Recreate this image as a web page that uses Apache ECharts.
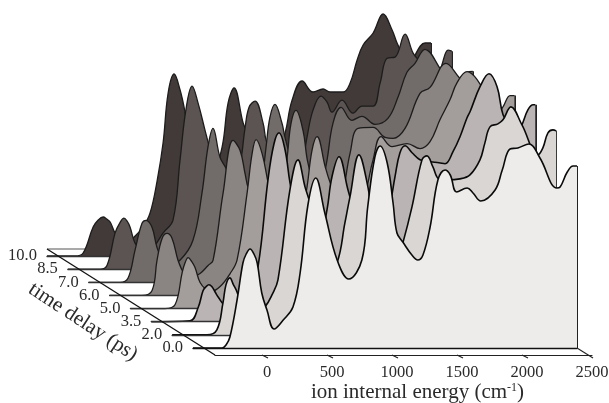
<!DOCTYPE html>
<html><head><meta charset="utf-8">
<style>html,body{margin:0;padding:0;background:#fff}#c{width:609px;height:403px}</style>
<script src="https://cdn.jsdelivr.net/npm/echarts@6/dist/echarts.min.js"></script>
</head><body><div id="c"></div>
<script>
const delays = ['0.0','2.0','3.5','5.0','6.0','7.0','8.5','10.0'];
const fills = ['#edeceb','#d9d6d4','#bab5b4','#a39d9b','#8a8482','#716b69','#5b5452','#413a38'];
const tickValues = [0,500,1000,1500,2000,2500];
// [ion internal energy (cm-1), intensity (arb.)]
const trace0 = [[-454,0],[-230,0],[-200,3],[-170,11],[-115,48],[-70,85],[-45,94],[-15,99],[15,94],[40,85],[75,55],[115,38],[170,19],[240,28],[315,41],[370,75],[430,143],[490,170],[560,135],[655,88],[745,69],[845,88],[890,141],[945,191],[985,202],[1040,185],[1085,145],[1115,115],[1160,106],[1230,93],[1275,88],[1315,93],[1370,121],[1430,168],[1485,178],[1525,173],[1575,156],[1655,160],[1700,155],[1760,147],[1870,158],[1925,178],[1985,199],[2045,200],[2130,204],[2215,190],[2345,160],[2370,161],[2425,176],[2470,182],[2500,182]];
const trace1 = [[-454,0],[-186,0],[-110,5],[-63,32],[-40,50],[-10,57],[18,50],[45,43],[105,22],[168,18],[260,28],[314,40],[360,55],[452,145],[514,175],[568,148],[606,132],[683,90],[745,65],[814,72],[875,112],[914,138],[983,180],[1052,148],[1083,120],[1145,92],[1222,82],[1283,77],[1321,92],[1391,128],[1468,175],[1506,179],[1552,168],[1598,156],[1660,155],[1760,156],[1837,160],[1914,175],[1952,192],[1991,208],[2052,211],[2091,215],[2152,228],[2237,210],[2360,180],[2398,187],[2437,202],[2475,205],[2500,204]];
const trace2 = [[-454,0],[-156,1],[-94,14],[-56,31],[-33,35],[-10,37],[13,35],[36,30],[59,25],[121,15],[167,14],[244,20],[306,32],[367,55],[444,142],[490,178],[529,189],[575,172],[613,139],[667,105],[729,78],[782,68],[844,80],[898,112],[936,145],[990,165],[1059,132],[1082,122],[1152,100],[1229,85],[1290,82],[1344,95],[1390,122],[1421,145],[1459,169],[1498,176],[1552,169],[1613,162],[1690,160],[1759,159],[1806,158],[1867,170],[1921,185],[1975,204],[1998,210],[2075,235],[2144,248],[2206,235],[2252,207],[2313,195],[2367,188],[2398,197],[2444,212],[2483,217],[2500,217]];
const trace3 = [[-454,0],[-187,0],[-110,4],[-56,36],[-33,46],[-10,51],[18,47],[43,41],[82,26],[128,19],[167,17],[236,22],[313,35],[367,49],[444,116],[482,155],[513,169],[559,155],[605,126],[659,95],[744,75],[820,78],[874,100],[905,122],[944,159],[982,172],[1044,142],[1082,126],[1159,100],[1213,90],[1274,80],[1328,95],[1374,126],[1413,149],[1474,172],[1559,162],[1674,165],[1774,160],[1851,167],[1928,189],[2005,209],[2059,226],[2136,237],[2213,229],[2313,206],[2367,194],[2413,202],[2467,213],[2500,213]];
const trace4 = [[-454,0],[-204,0],[-127,5],[-89,35],[-50,57],[-12,62],[27,57],[73,35],[119,22],[165,18],[242,22],[304,30],[342,35],[419,102],[496,155],[550,145],[588,122],[611,108],[665,88],[742,78],[819,85],[873,105],[912,138],[942,172],[980,185],[1034,165],[1073,132],[1150,100],[1227,90],[1280,85],[1335,100],[1396,142],[1458,167],[1573,168],[1665,158],[1727,157],[1819,167],[1934,202],[2011,208],[2134,232],[2242,217],[2365,203],[2434,205],[2500,210]];
const trace5 = [[-454,0],[-213,0],[-152,4],[-98,32],[-44,59],[-13,62],[33,55],[71,35],[117,22],[164,18],[248,22],[348,42],[417,89],[463,135],[502,154],[556,125],[602,114],[671,90],[740,75],[825,85],[879,105],[910,135],[940,165],[979,178],[1033,159],[1056,145],[1133,110],[1210,92],[1279,85],[1340,100],[1379,122],[1425,159],[1487,175],[1571,162],[1648,166],[1748,158],[1848,164],[1925,185],[1994,210],[2056,219],[2133,233],[2248,214],[2325,197],[2402,194],[2456,210],[2500,211]];
const trace6 = [[-454,0],[-206,0],[-152,4],[-91,36],[-55,46],[-22,51],[2,48],[25,42],[63,26],[109,20],[163,17],[217,24],[278,36],[355,49],[409,109],[455,160],[502,183],[548,166],[601,139],[617,131],[678,100],[732,75],[809,80],[871,105],[909,141],[940,162],[986,168],[1048,146],[1071,129],[1140,105],[1217,90],[1294,88],[1348,105],[1386,132],[1432,159],[1494,173],[1540,167],[1578,157],[1655,169],[1740,156],[1809,163],[1894,163],[1948,186],[2002,211],[2063,212],[2140,235],[2202,216],[2256,207],[2332,189],[2386,189],[2425,205],[2471,219],[2500,218]];
const trace7 = [[-454,0],[-238,0],[-176,3],[-99,29],[-60,36],[-22,39],[5,37],[32,34],[70,23],[116,16],[162,14],[224,20],[285,29],[339,43],[393,75],[439,113],[478,163],[524,182],[570,166],[609,143],[670,95],[732,72],[816,80],[893,109],[939,153],[985,168],[1055,133],[1078,126],[1147,105],[1224,90],[1301,92],[1378,123],[1432,156],[1509,175],[1593,164],[1670,167],[1724,164],[1824,164],[1878,173],[1932,196],[1978,211],[2055,223],[2132,242],[2201,226],[2239,213],[2301,196],[2340,186],[2378,201],[2455,213],[2500,213]];
const traces = [trace0,trace1,trace2,trace3,trace4,trace5,trace6,trace7];

const FONT = '"Liberation Serif","Times New Roman",serif';
const TEXT = '#2a2a2a';
const grids = [], xAxes = [], yAxes = [], series = [];
traces.forEach((t, k) => {
  const base = 348 - 13.14 * k, left = 193 - 20.86 * k, zz = 10 + 2 * (7 - k);
  grids.push({left, top: base - 250, width: 384, height: 250, outerBoundsMode: 'none'});
  xAxes.push({gridIndex: k, type: 'value', min: -454, max: 2500, z: zz + 1,
    axisLine: {show: true, onZero: false, lineStyle: {color: k === 0 ? '#111' : '#333', width: 1.3}},
    axisTick: {show: false}, axisLabel: {show: false}, splitLine: {show: false}});
  yAxes.push({gridIndex: k, type: 'value', min: 0, max: 250,
    axisLine: {show: false}, axisTick: {show: false}, splitLine: {show: false},
    axisLabel: {show: true, customValues: [0], formatter: () => delays[k], margin: 10,
      fontFamily: FONT, fontSize: 16.5, color: TEXT, padding: [8, 0, 0, 0]}});
  series.push({type: 'line', xAxisIndex: k, yAxisIndex: k, data: t, z: zz, smooth: 0.4,
    showSymbol: false, symbol: 'none', clip: false, silent: true,
    lineStyle: {color: k < 3 ? '#0a0a0a' : '#1c1c1c', width: k < 3 ? 1.6 : 1.3},
    areaStyle: {color: fills[k], opacity: 1, origin: 'start'},
    markLine: {silent: true, symbol: 'none', label: {show: false}, animation: false, z: zz,
      lineStyle: {color: '#222', width: 2, type: 'solid'},
      data: [[{coord: [2500, 0]}, {coord: [2500, t[t.length - 1][1]]}]]}});
});

// front floor axis: carries the energy tick labels
const A = 8;
grids.push({left: 215, top: 300, width: 377, height: 55, outerBoundsMode: 'none'});
xAxes.push({gridIndex: A, type: 'value', min: -400, max: 2500, z: 40,
  axisLine: {show: true, onZero: false, lineStyle: {color: '#222', width: 1.2}},
  axisTick: {show: false}, splitLine: {show: false},
  axisLabel: {show: true, customValues: tickValues, margin: 9, fontFamily: FONT, fontSize: 16.5, color: TEXT,
    formatter: v => String(v), hideOverlap: false},
  name: 'ion internal energy (cm{s|-1})', nameLocation: 'middle', nameGap: 27,
  nameTextStyle: {fontFamily: FONT, fontSize: 21, color: TEXT, padding: [0, 0, 0, 28],
    rich: {s: {fontFamily: FONT, fontSize: 12, color: TEXT, verticalAlign: 'top', padding: [0, 0, 7, 0]}}}});
yAxes.push({gridIndex: A, type: 'value', min: 0, max: 1, show: false});
series.push({type: 'custom', xAxisIndex: A, yAxisIndex: A, z: 41, silent: true, clip: false,
  data: tickValues.map(v => [v, 0]),
  renderItem: (params, api) => {
    const p = api.coord([api.value(0), 0]);
    const last = api.value(0) === 2500;
    return {type: 'line', shape: {x1: p[0] + (last ? -15 : -5), y1: p[1] + (last ? -7 : 0), x2: p[0] + 1, y2: p[1] + 3},
      style: {stroke: '#222', lineWidth: 1.1}};
  }});

const chart = echarts.init(document.getElementById('c'), null, {renderer: 'canvas'});
chart.setOption({
  animation: false, backgroundColor: '#fff',
  grid: grids, xAxis: xAxes, yAxis: yAxes, series,
  graphic: [
    {type: 'line', z: 1, shape: {x1: 47, y1: 249, x2: 110, y2: 249}, style: {stroke: '#555', lineWidth: 1.2}},
    {type: 'line', z: 42, shape: {x1: 47, y1: 249, x2: 215, y2: 355}, style: {stroke: '#111', lineWidth: 1.3}},
    {type: 'text', z: 42, x: 83, y: 322, rotation: -0.58, originX: 0, originY: 0,
      style: {text: 'time delay (ps)', font: '21px ' + FONT, fill: TEXT, align: 'center', verticalAlign: 'middle'}}
  ]
});
</script></body></html>
